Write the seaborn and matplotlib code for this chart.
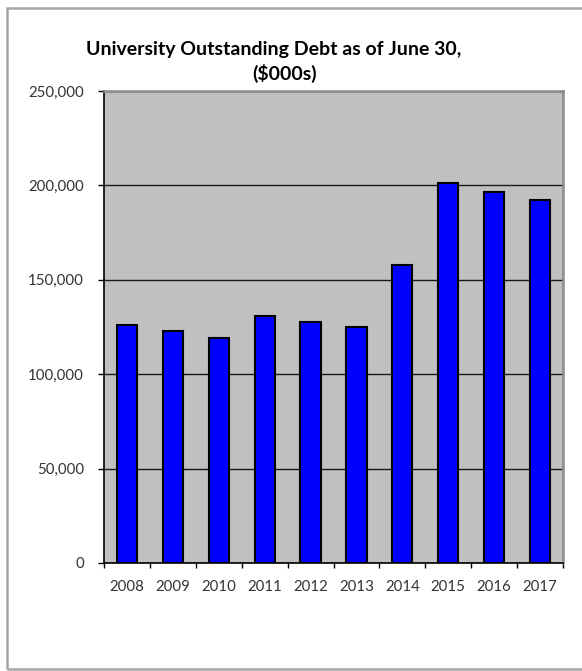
import matplotlib
matplotlib.use("Agg")
import matplotlib.pyplot as plt
from matplotlib.patches import Rectangle
from matplotlib.ticker import FuncFormatter, MultipleLocator
import numpy as np
import pandas as pd
import seaborn as sns

# Outstanding debt by fiscal year end, in thousands of dollars
years = ["2008", "2009", "2010", "2011", "2012", "2013", "2014", "2015", "2016", "2017"]
debt = [126100, 122700, 119300, 131000, 127600, 125000, 157700, 201100, 196700, 192300]

title_lines = ["University Outstanding Debt as of June 30,", "($000s)"]

sns.set_theme(style="white")
plt.rcParams["font.family"] = ["Lato", "DejaVu Sans"]

df = pd.DataFrame({"year": years, "debt": debt})

fig = plt.figure(figsize=(5.82, 6.71), dpi=100)
fig.patch.set_facecolor("white")

# outer frame of the chart
fig.patches.append(Rectangle((7 / 582, 2 / 671), 1.2, 661 / 671, transform=fig.transFigure,
                             fill=False, edgecolor="#a6a6a6", linewidth=1.8, zorder=0))

ax = fig.add_axes([104 / 582, 108 / 671, 459 / 582, 472 / 671])
ax.set_facecolor("#c0c0c0")

sns.barplot(data=df, x="year", y="debt", color="#0000ff", saturation=1,
            edgecolor="black", linewidth=1.5, width=0.44, ax=ax, zorder=3)

ax.set_ylim(0, 250000)
ax.set_xlim(-0.5, len(years) - 0.5)
ax.yaxis.set_major_locator(MultipleLocator(50000))
ax.yaxis.set_major_formatter(FuncFormatter(lambda v, p: f"{int(v):,}"))
ax.grid(axis="y", color="#1a1a1a", linewidth=1.0, zorder=1)
ax.set_axisbelow(True)

# category ticks sit between bars; labels centred under bars
ax.set_xticks(np.arange(len(years)))
ax.set_xticklabels(years)
ax.set_xticks(np.arange(-0.5, len(years)), minor=True)
ax.tick_params(axis="x", which="major", length=0, pad=12, labelsize=10.8, labelcolor="#333333")
ax.tick_params(axis="x", which="minor", length=3.6, width=1, color="black", direction="out", bottom=True)
ax.tick_params(axis="y", which="major", length=4.3, width=1, color="black", direction="out",
               left=True, pad=10, labelsize=10.8, labelcolor="#333333")

ax.set_xlabel("")
ax.set_ylabel("")

for side in ("left", "bottom"):
    ax.spines[side].set_color("black")
    ax.spines[side].set_linewidth(1.2)
for side in ("top", "right"):
    ax.spines[side].set_color("#8c8c8c")
    ax.spines[side].set_linewidth(1.8)

fig.text(274 / 582, 1 - 49 / 671, title_lines[0], ha="center", va="center",
         fontsize=14, fontweight="bold", color="black")
fig.text(285 / 582, 1 - 73 / 671, title_lines[1], ha="center", va="center",
         fontsize=14, fontweight="bold", color="black")

fig.savefig("out.png", dpi=100)
